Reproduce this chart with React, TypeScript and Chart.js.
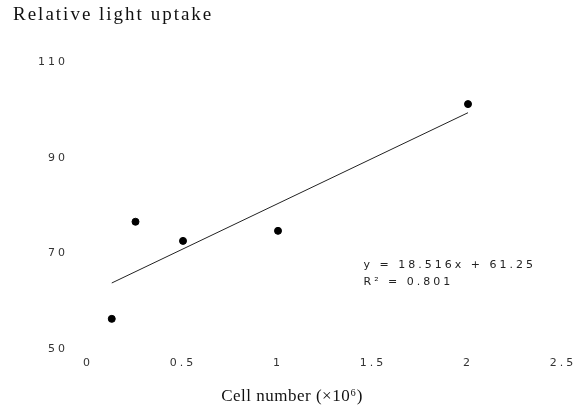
import React, { useEffect, useRef } from "react";
import { Chart, registerables } from "chart.js";

Chart.register(...registerables);

const cellNumbers = [0.125, 0.25, 0.5, 1, 2];
const lightUptake = [56.3, 76.6, 72.6, 74.7, 101.2];
const trendX = [0.125, 2];
const trendY = [63.8, 99.4];
const xTickValues = [0, 0.5, 1, 1.5, 2, 2.5];
const yTickValues = [50, 70, 90, 110];
const yTitle = "Relative light uptake";
const xTitle = "Cell number (×10⁶)";
const equationLine = "y = 18.516x + 61.25";
const rSquaredLine = "R² = 0.801";

const textPlugin = {
  id: "textPlugin",
  beforeDraw(chart: any) {
    chart.ctx.letterSpacing = "3px";
  },
  afterDraw(chart: any) {
    const ctx = chart.ctx;
    ctx.save();
    ctx.fillStyle = "#111";
    ctx.textBaseline = "alphabetic";
    ctx.letterSpacing = "2px";
    ctx.font = "19px 'Liberation Serif', serif";
    ctx.textAlign = "left";
    ctx.fillText(yTitle, 13, 20);
    ctx.letterSpacing = "0.5px";
    ctx.font = "17px 'Liberation Serif', serif";
    ctx.textAlign = "center";
    ctx.fillText(xTitle, 292, 401);
    ctx.letterSpacing = "3px";
    ctx.fillStyle = "#222";
    ctx.font = "11px 'DejaVu Sans', sans-serif";
    ctx.textAlign = "left";
    const xs = chart.scales.x;
    const ys = chart.scales.y;
    const ex = xs.getPixelForValue(1.45);
    ctx.fillText(equationLine, ex, ys.getPixelForValue(66.9));
    ctx.fillText(rSquaredLine, ex, ys.getPixelForValue(63.4));
    ctx.restore();
  },
};

export default function App() {
  const ref = useRef<HTMLCanvasElement>(null);
  useEffect(() => {
    if (!ref.current) return;
    const chart = new Chart(ref.current, {
      type: "scatter",
      data: {
        datasets: [
          {
            label: "data",
            data: cellNumbers.map((x, i) => ({ x, y: lightUptake[i] })),
            backgroundColor: "#000",
            borderColor: "#000",
            pointRadius: 3.5,
            pointStyle: "circle",
          },
          {
            type: "line",
            label: "trend",
            data: trendX.map((x, i) => ({ x, y: trendY[i] })),
            borderColor: "#222",
            borderWidth: 1,
            pointRadius: 0,
            fill: false,
          } as any,
        ],
      },
      options: {
        responsive: false,
        animation: false,
        layout: { padding: { top: 62, right: 24, left: 0, bottom: 0 } },
        plugins: { legend: { display: false }, tooltip: { enabled: false }, title: { display: false } },
        scales: {
          x: {
            type: "linear",
            min: 0,
            max: 2.5,
            grid: { display: false, drawTicks: false },
            border: { display: false },
            afterBuildTicks: (s: any) => {
              s.ticks = xTickValues.map((v) => ({ value: v }));
            },
            afterFit: (s: any) => {
              s.height = 67;
            },
            ticks: {
              padding: 8,
              color: "#333",
              font: { family: "'DejaVu Sans', sans-serif", size: 11 },
              maxRotation: 0,
              autoSkip: false,
              callback: (v: any) => String(v),
            },
          },
          y: {
            type: "linear",
            min: 50,
            max: 110,
            grid: { display: false, drawTicks: false },
            border: { display: false },
            afterBuildTicks: (s: any) => {
              s.ticks = yTickValues.map((v) => ({ value: v }));
            },
            afterFit: (s: any) => {
              s.width = 88;
            },
            ticks: {
              padding: 20,
              color: "#333",
              font: { family: "'DejaVu Sans', sans-serif", size: 11 },
              callback: (v: any) => String(v),
            },
          },
        },
      },
      plugins: [textPlugin],
    });
    return () => chart.destroy();
  }, []);
  return (
    <div style={{ position: "absolute", left: 0, top: 0, width: 587, height: 416, background: "#fff" }}>
      <canvas ref={ref} width={587} height={416} />
    </div>
  );
}
